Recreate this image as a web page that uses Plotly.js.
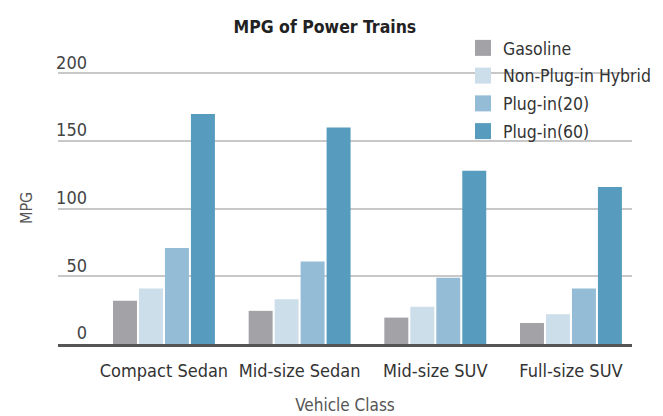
<!DOCTYPE html>
<html>
<head>
<meta charset="utf-8">
<script src="https://cdn.plot.ly/plotly-3.0.1.min.js"></script>
<style>
  html, body { margin: 0; padding: 0; background: #fff; }
  #chart { width: 663px; height: 416px; }
</style>
</head>
<body>
<div id="chart"></div>
<script>
var vehicleClasses = ['Compact Sedan', 'Mid-size Sedan', 'Mid-size SUV', 'Full-size SUV'];
var seriesNames = ['Gasoline', 'Non-Plug-in Hybrid', 'Plug-in(20)', 'Plug-in(60)'];
var gasoline = [32, 24.5, 19.5, 15.5];
var hybrid = [41, 33, 27.5, 22];
var plugin20 = [71, 61, 49, 41];
var plugin60 = [170, 160, 128, 116];
var colors = ['#a3a2a7', '#cddeeb', '#94bcd6', '#579bbe'];

var font = '"DejaVu Sans Condensed", "Liberation Sans Narrow", "Roboto", sans-serif';
var values = [gasoline, hybrid, plugin20, plugin60];

var data = [];
for (let i = 0; i < values.length; i++) {
  data.push({
    type: 'bar',
    x: vehicleClasses,
    y: values[i],
    name: seriesNames[i],
    marker: {color: colors[i]},
    showlegend: false,
    hoverinfo: 'x+y+name'
  });
}
// legend entries with bigger square swatches
for (let i = 0; i < values.length; i++) {
  data.push({
    type: 'scatter',
    mode: 'markers',
    x: [vehicleClasses[0]],
    y: [null],
    name: seriesNames[i],
    legendgroup: 'g' + i,
    marker: {color: colors[i], symbol: 'square', size: 16},
    hoverinfo: 'skip'
  });
}

var layout = {
  width: 663,
  height: 416,
  paper_bgcolor: '#fff',
  plot_bgcolor: '#fff',
  font: {family: font, color: '#333'},
  margin: {l: 58, r: 31, t: 72, b: 72, autoexpand: false},
  title: {
    text: '<b>MPG of Power Trains</b>',
    font: {family: font, size: 17.5, color: '#222'},
    x: 0.49, xanchor: 'center',
    yref: 'container', y: 1 - 27 / 416, yanchor: 'middle'
  },
  bargap: 0.234,
  bargroupgap: 0.077,
  barmode: 'group',
  xaxis: {
    type: 'category',
    range: [-0.781, 3.45],
    showgrid: false,
    showline: true,
    linecolor: '#555',
    linewidth: 2.5,
    ticks: '',
    tickangle: 0,
    automargin: false,
    ticklabelstandoff: 9,
    tickfont: {family: font, size: 18, color: '#333'},
    title: {text: 'Vehicle Class', font: {family: font, size: 17, color: '#555'}, standoff: 19}
  },
  yaxis: {
    range: [0, 201],
    tickvals: [0, 50, 100, 150, 200],
    showgrid: true,
    gridcolor: '#c8c8c8',
    gridwidth: 1.5,
    zeroline: false,
    showline: false,
    ticks: '',
    automargin: false,
    tickfont: {family: font, size: 18, color: '#444'},
    ticklabelstandoff: -30,
    ticklabelshift: -11,
    title: {text: ''}
  },
  annotations: [{
    text: 'MPG',
    xref: 'paper', yref: 'paper',
    x: (26 - 58) / 574, y: (344 - 208) / 272,
    xanchor: 'center', yanchor: 'middle',
    textangle: -90,
    showarrow: false,
    font: {family: font, size: 16, color: '#555'}
  }],
  legend: {
    xref: 'container', yref: 'container',
    x: 463 / 663, xanchor: 'left',
    y: 1 - 30 / 416, yanchor: 'top',
    font: {family: font, size: 17.5, color: '#333'},
    tracegroupgap: 2,
    bgcolor: 'rgba(0,0,0,0)'
  }
};

Plotly.newPlot('chart', data, layout, {displayModeBar: false});
</script>
</body>
</html>
